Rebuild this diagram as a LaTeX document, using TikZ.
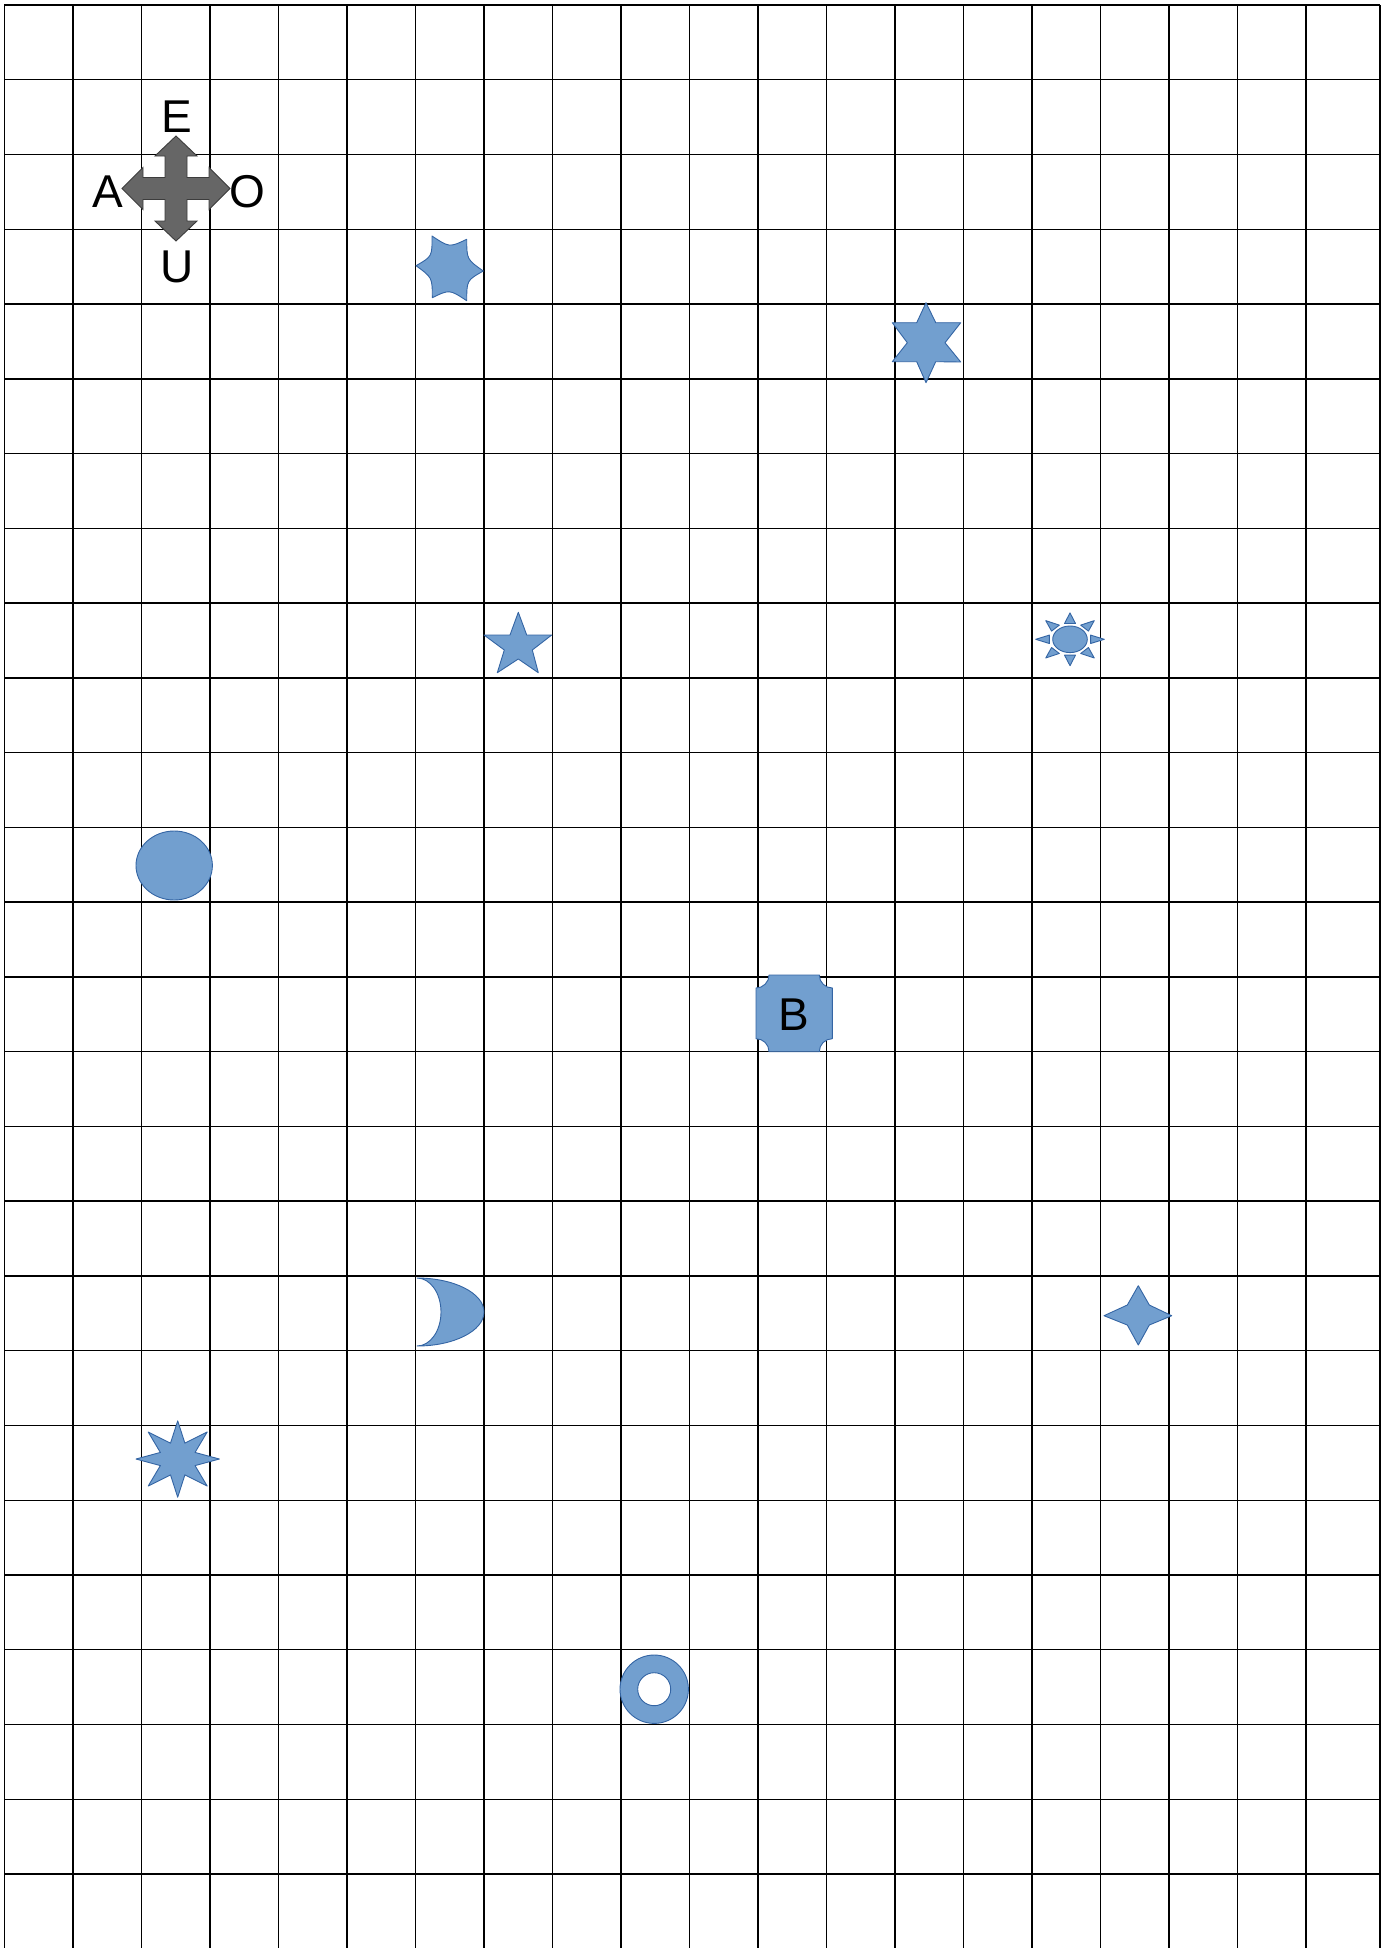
\documentclass[tikz,border=0pt]{standalone}
\usepackage{fontspec}
\setmainfont{Liberation Sans}
\usetikzlibrary{calc}
\definecolor{shapefill}{HTML}{729FCF}
\definecolor{shapeline}{HTML}{3465A4}
\definecolor{arrowfill}{HTML}{666666}
\definecolor{arrowline}{HTML}{3C3C3C}
\begin{document}
\begin{tikzpicture}[x=1pt,y=-1pt,
  gridline/.style={line width=1.4pt, black},
  blueshape/.style={fill=shapefill, draw=shapeline, line width=0.9pt, line join=round},
  arrowshape/.style={fill=arrowfill, draw=arrowline, line width=0.9pt, line join=miter},
  letter/.style={font=\fontsize{46}{50}\selectfont, inner sep=0pt, text=black}]
\useasboundingbox (0,0) rectangle (1390,1948);
\fill[white] (0,0) rectangle (1390,1948);
% grid
\foreach \i in {0,...,19} \draw[gridline] ({4.3+68.52*\i},5) -- ({4.3+68.52*\i},1948);
\draw[gridline] (1380,5) -- (1380,1948);
\foreach \j in {0,...,25} \draw[gridline] (4.3,{5+74.76*\j}) -- (1380,{5+74.76*\j});

% four-way arrow
\filldraw[arrowshape, shift={(176,188.5)}]
  (0,-52.5) -- (21,-32.5) -- (11,-32.5) -- (11,-11) -- (33,-11) -- (33,-21) -- (54,0)
  -- (33,21) -- (33,11) -- (11,11) -- (11,32.5) -- (21,32.5) -- (0,52.5)
  -- (-21,32.5) -- (-11,32.5) -- (-11,11) -- (-33,11) -- (-33,21) -- (-54,0)
  -- (-33,-21) -- (-33,-11) -- (-11,-11) -- (-11,-32.5) -- (-21,-32.5) -- cycle;
\node[letter] (lE) at (177,116.5) {E};
\node[letter] (lA) at (107.5,191.7) {A};
\node[letter] (lO) at (247.8,192) {O};
\node[letter] (lU) at (177.5,266.7) {U};

% concave hexagon
\coordinate (hc) at (449.5,268.5);
\coordinate (h1) at (416,265.7);
\coordinate (h2) at (432,236);
\coordinate (h3) at (466.7,239.3);
\coordinate (h4) at (483.3,271);
\coordinate (h5) at (466.7,300.7);
\coordinate (h6) at (432.3,297.7);
\filldraw[blueshape]
  (h1) .. controls ($(h1)!.5!(h2)!.32!(hc)$) .. (h2)
  .. controls ($(h2)!.5!(h3)!.32!(hc)$) .. (h3)
  .. controls ($(h3)!.5!(h4)!.32!(hc)$) .. (h4)
  .. controls ($(h4)!.5!(h5)!.32!(hc)$) .. (h5)
  .. controls ($(h5)!.5!(h6)!.32!(hc)$) .. (h6)
  .. controls ($(h6)!.5!(h1)!.32!(hc)$) .. (h1) -- cycle;

% six-point star
\filldraw[blueshape] (926,302.7) -- (935.7,322.7) -- (960.7,322.7) -- (945,342.7)
  -- (960.7,362) -- (935.7,361.7) -- (926,382.7) -- (916.7,361.7) -- (892.3,361.7)
  -- (907.3,342.7) -- (892.3,322.7) -- (916.7,322.7) -- cycle;

% five-point star
\filldraw[blueshape] (518.3,612.3) -- (526.7,635) -- (551.7,635) -- (532.3,650)
  -- (538.3,672.7) -- (518.3,659) -- (497.3,672.7) -- (504.3,650) -- (484,635)
  -- (510,635) -- cycle;

% sun
\filldraw[blueshape] (1070,639.3) ellipse [x radius=17.3pt, y radius=13.3pt];
\begin{scope}[shift={(1070,639.3)}, xscale=34.3, yscale=26.4]
  \foreach \a in {0,45,...,315}
    \filldraw[blueshape] (\a:1) -- ($(\a:0.6)+(\a+90:0.16)$) -- ($(\a:0.6)+(\a-90:0.16)$) -- cycle;
\end{scope}

% ellipse
\filldraw[blueshape] (174.2,865.5) ellipse [x radius=38.2pt, y radius=34.5pt];

% plaque with B
\filldraw[blueshape] (769,975) -- (819.3,975)
  .. controls (819.3,982.2) and (825.1,988) .. (832.3,988) -- (832.3,1038.7)
  .. controls (825.1,1038.7) and (819.3,1044.5) .. (819.3,1051.7) -- (769,1051.7)
  .. controls (769,1044.5) and (763.2,1038.7) .. (756,1038.7) -- (756,988)
  .. controls (763.2,988) and (769,982.2) .. (769,975) -- cycle;
\node[letter] (lB) at (794,1015) {B};

% moon
\filldraw[blueshape] (417,1278)
  .. controls (454,1278) and (484,1293.2) .. (484,1312)
  .. controls (484,1330.8) and (454,1346) .. (417,1346)
  .. controls (430.3,1346) and (441,1330.8) .. (441,1312)
  .. controls (441,1293.2) and (430.3,1278) .. (417,1278) -- cycle;

% four-point star
\filldraw[blueshape] (1138.3,1285.7) -- (1149.3,1305) -- (1171.7,1315.7) -- (1149.3,1325)
  -- (1138.3,1345) -- (1127.3,1325) -- (1104,1315.7) -- (1127.3,1305) -- cycle;

% eight-point star
\filldraw[blueshape, shift={(177.7,1459)}, xscale=41.7, yscale=38.2]
  (90:1) \foreach \a/\r in {112.5/0.45, 135/1, 157.5/0.45, 180/1, 202.5/0.45, 225/1,
    247.5/0.45, 270/1, 292.5/0.45, 315/1, 337.5/0.45, 0/1, 22.5/0.45, 45/1, 67.5/0.45}
    { -- (\a:\r) } -- cycle;

% ring
\filldraw[blueshape, even odd rule] (654.2,1689.2) circle [radius=34.2pt]
  (654.2,1689.2) circle [radius=16.5pt];
\end{tikzpicture}
\end{document}
